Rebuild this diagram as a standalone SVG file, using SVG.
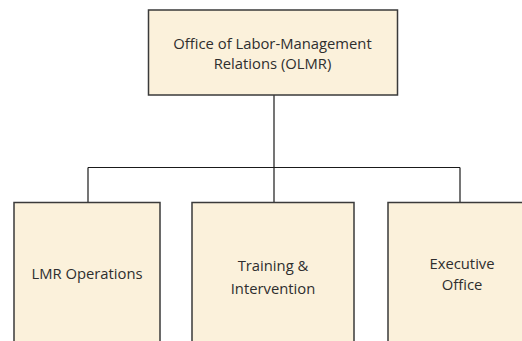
<svg xmlns="http://www.w3.org/2000/svg" width="522" height="341" viewBox="0 0 522 341">
<style>
.box{fill:#FBF1DB;stroke:#3a3a3a;stroke-width:1.5}
.conn{stroke:#1a1a1a;stroke-width:1.2;fill:none}
text{font-family:"Open Sans","Liberation Sans",sans-serif;font-size:14.8px;fill:#2e2e2e;text-anchor:middle}
</style>
<rect width="522" height="341" fill="#fff"/>
<g id="connectors">
<path class="conn" d="M274 95V203"/>
<path class="conn" d="M88 167.5H460"/>
<path class="conn" d="M88 167.5V203"/>
<path class="conn" d="M460 167.5V203"/>
</g>
<g id="olmr">
<rect class="box" x="148.5" y="10" width="249" height="85"/>
<text x="272.5" y="48.5">Office of Labor-Management</text>
<text x="272.5" y="68.5">Relations (OLMR)</text>
</g>
<g id="lmr-operations">
<rect class="box" x="14" y="202.5" width="146" height="150"/>
<text x="87" y="279">LMR Operations</text>
</g>
<g id="training">
<rect class="box" x="192" y="202.5" width="162" height="150"/>
<text x="273" y="271">Training &amp;</text>
<text x="273" y="294">Intervention</text>
</g>
<g id="executive">
<rect class="box" x="388" y="202.5" width="150" height="150"/>
<text x="462" y="269">Executive</text>
<text x="462" y="290">Office</text>
</g>
</svg>
